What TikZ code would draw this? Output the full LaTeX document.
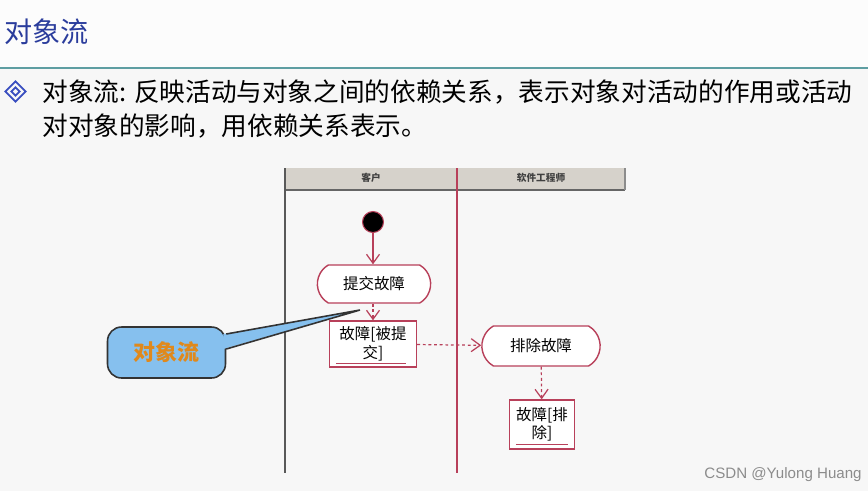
\documentclass[tikz,border=0pt]{standalone}
\usepackage{fontspec}
\setmainfont{Noto Sans CJK SC}
\newfontfamily\markfont{Liberation Sans}
\usetikzlibrary{arrows.meta,shapes.misc,shapes.geometric}
\definecolor{titleblue}{HTML}{2A3C9C}
\definecolor{bulletblue}{HTML}{3A4FC0}
\definecolor{rulegreen}{HTML}{5E9EA2}
\definecolor{lanered}{HTML}{B8405A}
\definecolor{headgray}{HTML}{D6D2CB}
\definecolor{calloutblue}{HTML}{86C0EE}
\definecolor{calloutorange}{HTML}{E0891C}
\tikzset{
  action/.style={draw=lanered, line width=0.8pt, fill=white, rounded rectangle,
    rounded rectangle arc length=120, minimum width=2.5cm, minimum height=0.76cm,
    font=\fontsize{8.8}{10}\selectfont},
  objbox/.style={draw=lanered, line width=0.8pt, fill=white, align=center,
    inner sep=1pt, font=\fontsize{8.8}{10.5}\selectfont},
  flow/.style={draw=lanered, line width=0.7pt, -{Straight Barb[length=1.8mm,width=2.6mm]}},
  objflow/.style={flow, dash pattern=on 1.6pt off 1.6pt},
  lanehead/.style={font=\fontsize{5.5}{6}\selectfont\bfseries, text=black!75},
  bodytext/.style={anchor=west, inner sep=0, font=\fontsize{14.6}{17}\selectfont}
}
\begin{document}
\begin{tikzpicture}[x=0.02cm, y=-0.02cm]
  \useasboundingbox (0,0) rectangle (868,491);
  \fill[black!3] (0,0) rectangle (868,491);
  \fill[black!1] (0,0) rectangle (868,67);
  \draw[rulegreen, line width=1.2pt] (0,68) -- (868,68);

  % heading and text
  \node[anchor=west, inner sep=0, text=titleblue, font=\fontsize{16}{18}\selectfont] (title) at (4,32) {对象流};
  \node[diamond, draw=bulletblue, line width=1pt, minimum size=0.42cm, inner sep=0] (bullet) at (15.5,91.5) {};
  \node[diamond, draw=bulletblue, line width=1pt, minimum size=0.18cm, inner sep=0] (bulletin) at (bullet) {};
  \node[bodytext] (line1) at (42,92) {对象流: 反映活动与对象之间的依赖关系，表示对象对活动的作用或活动};
  \node[bodytext] (line2) at (42,126) {对对象的影响，用依赖关系表示。};

  % swimlanes
  \fill[headgray] (285,168) rectangle (625,190);
  \draw[black!60, line width=1.5pt] (285,190) -- (625,190);
  \draw[black!45, line width=0.6pt] (625,168) -- (625,190);
  \draw[black!65, line width=1.2pt] (285,168) -- (285,473);
  \draw[lanered, line width=1pt] (457,168) -- (457,473);
  \node[lanehead] (client) at (371,178) {客户};
  \node[lanehead] (engineer) at (541,178) {软件工程师};

  % activity nodes
  \node[circle, fill=black, draw=lanered, line width=0.6pt, minimum size=0.42cm, inner sep=0] (start) at (373,222) {};
  \node[action] (submit) at (374,284) {提交故障};
  \node[objbox, minimum width=1.74cm, minimum height=0.92cm] (reported) at (373,344) {故障[被提\\交]};
  \node[action, minimum width=2.6cm, minimum height=0.8cm] (fix) at (541,346) {排除故障};
  \node[objbox, minimum width=1.3cm, minimum height=0.98cm] (fixed) at (542,424.5) {故障[排\\除]};
  \draw[lanered, line width=0.8pt] ([xshift=0.14cm, yshift=0.09cm]reported.south west) -- ([xshift=-0.22cm, yshift=0.09cm]reported.south east);
  \draw[lanered, line width=0.8pt] ([xshift=0.14cm, yshift=0.1cm]fixed.south west) -- ([xshift=-0.14cm, yshift=0.1cm]fixed.south east);

  \draw[flow] (start) -- (start |- submit.north);
  \draw[objflow] (reported.north |- submit.south) -- (reported.north);
  \draw[objflow] (reported) -- (fix);
  \draw[objflow] (fix) -- (fixed);

  % callout
  \node[draw=black!80, line width=0.9pt, fill=calloutblue, rounded corners=8pt,
    minimum width=2.36cm, minimum height=1.02cm, text=calloutorange,
    font=\fontsize{12.5}{14}\selectfont\bfseries] (note) at (166.5,352.5) {对象流};
  \coordinate (tip) at (360,310);
  \fill[calloutblue] ([xshift=-0.06cm, yshift=0.37cm]note.east) -- (tip) -- ([xshift=-0.06cm, yshift=0.07cm]note.east) -- cycle;
  \draw[black!80, line width=0.9pt] ([yshift=0.37cm]note.east) -- (tip) -- ([yshift=0.07cm]note.east);

  \node[anchor=east, inner sep=0, text=black!45, font=\markfont\fontsize{8.6}{10}\selectfont] (mark) at (862,475) {CSDN @Yulong Huang};
\end{tikzpicture}
\end{document}
